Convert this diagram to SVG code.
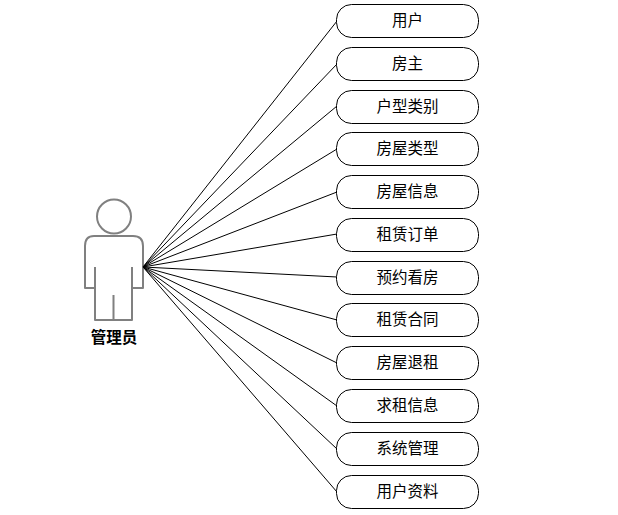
<svg xmlns="http://www.w3.org/2000/svg" width="618" height="515" viewBox="0 0 618 515">
<style>
.n rect{fill:#fff;stroke:#000;stroke-width:1}
text{font-family:"Liberation Sans","Noto Sans CJK SC",sans-serif;font-size:15.500px;text-anchor:middle;fill:#000}
.c line{stroke:#000;stroke-width:1}
.a{fill:#fff;stroke:#808080;stroke-width:2;stroke-linejoin:round}
</style>
<rect width="618" height="515" fill="#fff"/>
<g id="actor">
<circle class="a" cx="114" cy="216.500" r="17"/>
<path class="a" d="M94 236H133Q143 236 143 246V288H132V320H95V288H85V246Q85 236 94 236ZM95 288V267M132 288V267M113.500 320V295"/>
<text x="114" y="343" style="font-weight:bold">管理员</text>
</g>
<g class="c">
<line x1="143" y1="267" x2="337" y2="21"/>
<line x1="143" y1="267" x2="337" y2="64"/>
<line x1="143" y1="267" x2="337" y2="106"/>
<line x1="143" y1="267" x2="337" y2="149"/>
<line x1="143" y1="267" x2="337" y2="192"/>
<line x1="143" y1="267" x2="337" y2="234"/>
<line x1="143" y1="267" x2="337" y2="277"/>
<line x1="143" y1="267" x2="337" y2="320"/>
<line x1="143" y1="267" x2="337" y2="363"/>
<line x1="143" y1="267" x2="337" y2="406"/>
<line x1="143" y1="267" x2="337" y2="449"/>
<line x1="143" y1="267" x2="337" y2="492"/>
</g>
<g id="n1" class="n"><rect x="336.500" y="4.500" width="142" height="33" rx="15"/><text x="407.500" y="26">用户</text></g>
<g id="n2" class="n"><rect x="336.500" y="47.500" width="142" height="33" rx="15"/><text x="407.500" y="69">房主</text></g>
<g id="n3" class="n"><rect x="336.500" y="90.500" width="142" height="33" rx="15"/><text x="407.500" y="112">户型类别</text></g>
<g id="n4" class="n"><rect x="336.500" y="132.500" width="142" height="33" rx="15"/><text x="407.500" y="154">房屋类型</text></g>
<g id="n5" class="n"><rect x="336.500" y="175.500" width="142" height="33" rx="15"/><text x="407.500" y="197">房屋信息</text></g>
<g id="n6" class="n"><rect x="336.500" y="218.500" width="142" height="33" rx="15"/><text x="407.500" y="240">租赁订单</text></g>
<g id="n7" class="n"><rect x="336.500" y="261.500" width="142" height="33" rx="15"/><text x="407.500" y="283">预约看房</text></g>
<g id="n8" class="n"><rect x="336.500" y="303.500" width="142" height="33" rx="15"/><text x="407.500" y="325">租赁合同</text></g>
<g id="n9" class="n"><rect x="336.500" y="346.500" width="142" height="33" rx="15"/><text x="407.500" y="368">房屋退租</text></g>
<g id="n10" class="n"><rect x="336.500" y="389.500" width="142" height="33" rx="15"/><text x="407.500" y="411">求租信息</text></g>
<g id="n11" class="n"><rect x="336.500" y="432.500" width="142" height="33" rx="15"/><text x="407.500" y="454">系统管理</text></g>
<g id="n12" class="n"><rect x="336.500" y="475.500" width="142" height="33" rx="15"/><text x="407.500" y="497">用户资料</text></g>
</svg>
